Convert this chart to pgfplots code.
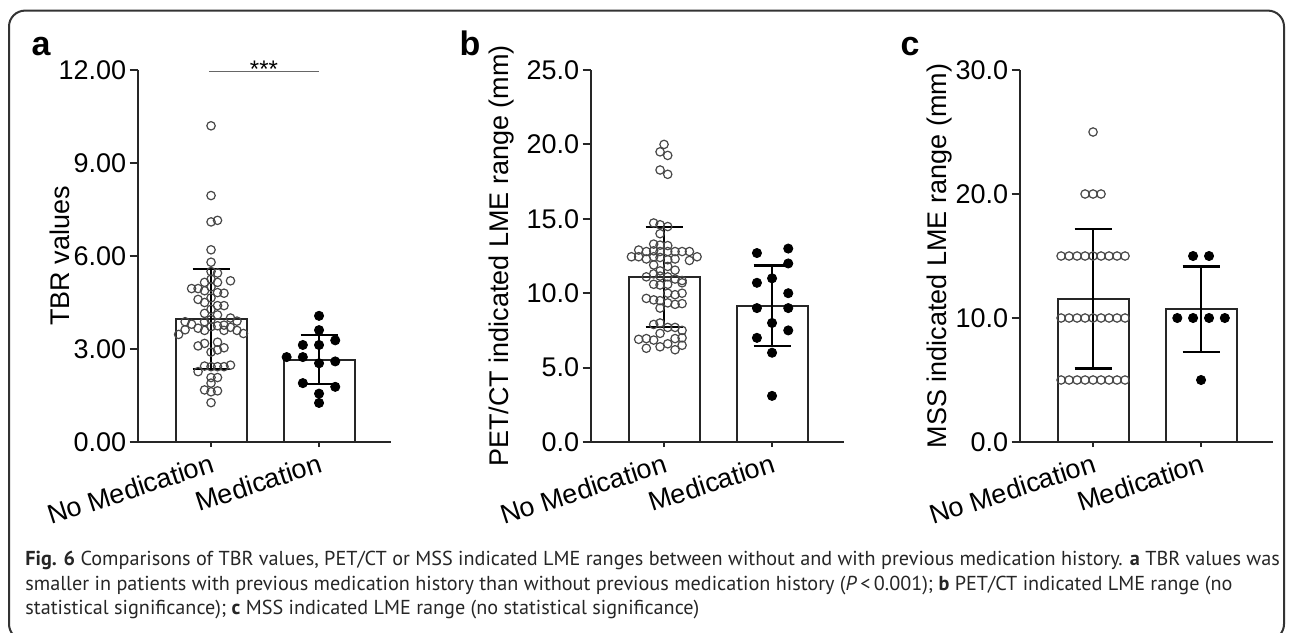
\documentclass[border=0pt]{standalone}
\usepackage{fontspec}
\setmainfont{Liberation Sans}
\newfontfamily\capfont{PT Sans}
\usepackage{pgfplots}
\pgfplotsset{compat=1.18}

\newcommand{\tickfont}{\fontsize{13.5}{16}\selectfont}
% error bar: x, low, high
\newcommand{\errbar}[3]{%
  \addplot[line width=1.2pt, black] coordinates {(#1,#2)(#1,#3)};
  \addplot[line width=1.2pt, black] coordinates {({#1-0.171},#3)({#1+0.171},#3)};
  \addplot[line width=1.2pt, black] coordinates {({#1-0.171},#2)({#1+0.171},#2)};
}

\pgfplotsset{
  panel/.style={
    scale only axis, width=126.9pt, height=186pt,
    anchor=south west,
    xmin=-0.68, xmax=1.67, ymin=0,
    axis x line*=bottom, axis y line*=left,
    axis line style={line width=1pt, black!85},
    tick align=outside,
    xtick={0,1}, xticklabels={No Medication, Medication},
    xticklabel style={rotate=18, anchor=north east, font=\tickfont, inner sep=1pt},
    yticklabel style={font=\tickfont, inner sep=1.5pt},
    tick style={line width=1pt, black!85},
    major tick length=4pt,
    xtick style={/pgfplots/major tick length=2.5pt},
    clip=false,
    /pgf/number format/assume math mode=true,
    /pgf/number format/fixed, /pgf/number format/fixed zerofill,
  },
  openpts/.style={only marks, mark=o, mark size=2.1pt, mark options={line width=0.6pt, draw=black!72}},
  fullpts/.style={only marks, mark=*, mark size=2.3pt, mark options={fill=black, draw=black}},
  bars/.style={ybar, bar width=0.657, fill=white, draw=black!85, line width=1pt},
}

\begin{document}
\begin{tikzpicture}
\useasboundingbox (0,0) rectangle (646.5pt,-316pt);
\draw[black!80, line width=1pt, rounded corners=8pt] (4.5pt,-5.3pt) rectangle (642pt,-320pt);

% panel letters
\node[anchor=base, font=\fontsize{17}{20}\selectfont\bfseries] at (20.5pt,-27.5pt) {a};
\node[anchor=base, font=\fontsize{17}{20}\selectfont\bfseries] at (235pt,-27.5pt) {b};
\node[anchor=base, font=\fontsize{17}{20}\selectfont\bfseries] at (455pt,-27.5pt) {c};

% ---------- a
\begin{axis}[panel, at={(68.8pt,-221pt)},
  ymax=12, ytick={0,3,6,9,12},
  /pgf/number format/precision=2,
  ylabel={TBR values},
  ylabel style={at={(axis description cs:-0.306,0.5)}, anchor=center, rotate=0, font=\tickfont},
]
\addplot[bars] coordinates {(0,3.97)(1,2.66)};
\addplot[openpts] coordinates {
(0,10.2)(0,7.95)(0,7.1)(0.06,7.15)(0,6.2)(0,5.8)(0,5.5)(0.06,5.45)
(-0.06,5.15)(0,5.25)(0.06,5.15)(0.18,5.2)
(-0.18,4.95)(-0.12,4.95)(-0.06,4.88)(0,5.0)(0.06,4.82)(0.12,4.8)
(-0.12,4.6)(-0.06,4.5)(0,4.65)(0.06,4.4)(0.12,4.4)
(-0.06,4.15)(0,4.28)(0.06,4.1)
(-0.24,3.88)(-0.18,3.8)(-0.06,3.88)(0,3.95)(0.12,3.77)(0.18,4.0)(0.24,3.9)
(-0.30,3.47)(-0.24,3.62)(-0.12,3.67)(-0.06,3.6)(0,3.72)(0.06,3.75)(0.12,3.6)(0.18,3.7)(0.24,3.6)(0.30,3.5)
(-0.12,3.1)(-0.06,3.18)(0.06,3.22)(0.12,3.04)
(0,2.9)(0.06,2.97)
(-0.12,2.27)(-0.06,2.45)(0,2.43)(0.06,2.43)(0.12,2.43)(0.18,2.48)
(0,2.08)(0.06,2.08)(0,1.9)
(-0.06,1.68)(0,1.62)(0.06,1.65)(0,1.27)
};
\addplot[fullpts] coordinates {
(1,4.07)(1,3.61)(1.15,3.28)(0.85,3.13)(1,3.13)(0.70,2.74)(0.85,2.74)
(1,2.54)(1.15,2.6)(0.85,1.9)(1.15,1.78)(1,1.56)(1,1.26)
};
\errbar{0}{2.35}{5.59}
\errbar{1}{1.87}{3.45}
\addplot[line width=0.75pt, black!60] coordinates {(-0.02,11.95)(1.0,11.95)};
\node[anchor=base, font=\fontsize{12}{14}\selectfont, yshift=-3.2pt] at (axis cs:0.49,11.95) {***};
\end{axis}

% ---------- b
\begin{axis}[panel, at={(295.3pt,-221pt)},
  ymax=25, ytick={0,5,10,15,20,25},
  /pgf/number format/precision=1,
  ylabel={PET/CT indicated LME range (mm)},
  ylabel style={at={(axis description cs:-0.35,0.5)}, anchor=center, rotate=0, font=\tickfont},
]
\addplot[bars] coordinates {(0,11.08)(1,9.15)};
\addplot[openpts] coordinates {
(0,20.0)(-0.037,19.5)(0.034,19.26)(-0.037,18.28)(0.034,17.99)
(-0.096,14.72)(-0.037,14.6)(0.034,14.48)(-0.037,14.0)
(-0.096,13.3)(-0.037,13.23)(0.034,13.2)
(-0.235,12.9)(-0.164,12.8)(-0.096,12.85)(-0.037,12.8)(0.034,12.8)(0.102,12.8)(0.167,12.8)(0.235,12.8)
(-0.302,12.45)(-0.235,12.45)(-0.164,12.3)(-0.096,12.45)(-0.037,12.4)(0.034,12.25)(0.102,12.3)(0.235,12.2)(0.306,12.45)
(-0.096,11.9)(0.034,11.8)(-0.037,11.5)(0.102,11.55)
(-0.164,11.1)(-0.096,11.3)(-0.037,11.15)(0.034,11.1)(0.102,10.95)(0.167,10.85)
(-0.096,10.6)(-0.037,10.55)(0.034,10.6)(0.167,10.7)
(0.034,10.0)(0.102,9.9)(0.167,10.0)
(-0.164,9.65)(-0.096,9.55)(-0.037,9.5)
(0.034,9.35)(0.102,9.25)(0.167,9.3)
(-0.037,9.0)(-0.037,8.0)(-0.096,7.9)
(0.034,7.7)(0.102,7.7)(0.167,7.5)
(-0.037,7.3)(-0.164,6.95)(-0.235,6.9)(-0.096,6.85)(0.102,6.95)(0.167,7.0)
(-0.164,6.3)(-0.037,6.4)(0.034,6.6)(0.102,6.2)(0.167,6.5)
};
\addplot[fullpts] coordinates {
(1.15,13.0)(0.86,12.7)(1.15,12.0)(1.0,11.0)(0.86,10.7)(1.15,10.0)(0.86,9.0)
(1.15,9.0)(1.0,8.0)(1.15,7.5)(0.86,7.0)(1.0,6.0)(1.0,3.1)
};
\errbar{0}{7.72}{14.44}
\errbar{1}{6.45}{11.85}
\end{axis}

% ---------- c
\begin{axis}[panel, at={(509.8pt,-221pt)},
  ymax=30, ytick={0,10,20,30},
  /pgf/number format/precision=1,
  ylabel={MSS indicated LME range (mm)},
  ylabel style={at={(axis description cs:-0.314,0.5)}, anchor=center, rotate=0, font=\tickfont},
]
\addplot[bars] coordinates {(0,11.55)(1,10.7)};
\addplot[openpts] coordinates {
(0,25)(-0.074,20)(0,20)(0.074,20)
(-0.296,15)(-0.222,15)(-0.148,15)(-0.074,15)(0,15)(0.074,15)(0.148,15)(0.222,15)(0.296,15)
(-0.296,10)(-0.222,10)(-0.148,10)(-0.074,10)(0,10)(0.074,10)(0.148,10)(0.222,10)(0.296,10)
(-0.296,5)(-0.222,5)(-0.148,5)(-0.074,5)(0,5)(0.074,5)(0.148,5)(0.222,5)(0.296,5)
};
\addplot[fullpts] coordinates {
(0.926,15)(1.074,15)(0.78,10)(0.926,10)(1.074,10)(1.22,10)(1,5)
};
\errbar{0}{5.93}{17.17}
\errbar{1}{7.25}{14.15}
\end{axis}

% caption
\begin{scope}[every node/.style={anchor=base west, inner sep=0pt, font=\capfont\fontsize{10.1}{12}\selectfont, text=black!85}]
\node at (12.5pt,-282.5pt) {\textbf{Fig. 6} Comparisons of TBR values, PET/CT or MSS indicated LME ranges between without and with previous medication history. \textbf{a} TBR values was};
\node at (12.5pt,-295pt) {smaller in patients with previous medication history than without previous medication history (\textit{P}\,<\,0.001); \textbf{b} PET/CT indicated LME range (no};
\node at (12.5pt,-307pt) {statistical significance); \textbf{c} MSS indicated LME range (no statistical significance)};
\end{scope}
\end{tikzpicture}
\end{document}
